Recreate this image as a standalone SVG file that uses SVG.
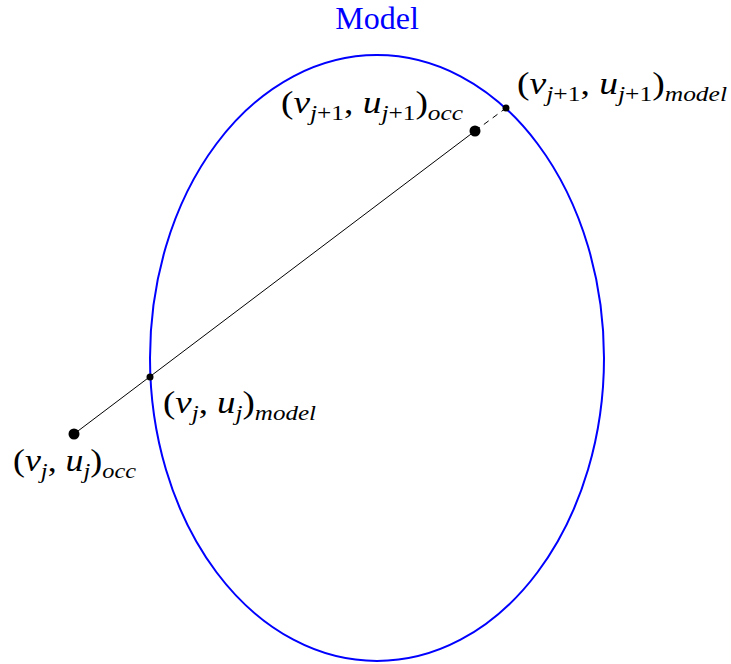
<svg xmlns="http://www.w3.org/2000/svg" width="731" height="664" viewBox="0 0 731 664">
<style>
text{font-family:"Liberation Serif","DejaVu Serif",serif;font-size:31px;fill:#000}
.i{font-style:italic}
.s{font-size:21px;font-style:italic}
.ss{font-size:21px}
.title{fill:#0000ff;font-size:32px}
</style>
<rect width="731" height="664" fill="#fff"/>
<g id="model">
<ellipse cx="377" cy="358" rx="227" ry="303" fill="none" stroke="#0000ff" stroke-width="2"/>
<text class="title" x="377" y="29" text-anchor="middle">Model</text>
</g>
<g id="connectors">
<line x1="74" y1="434" x2="475" y2="131" stroke="#000" stroke-width="1"/>
<line x1="475" y1="131" x2="506" y2="108" stroke="#000" stroke-width="1" stroke-dasharray="6,5"/>
</g>
<g id="p-occ-j">
<circle cx="74" cy="434" r="5.5" fill="#000"/>
<text x="13" y="471" textLength="123" lengthAdjust="spacingAndGlyphs">(<tspan class="i">v</tspan><tspan class="s" dy="7">j</tspan><tspan dy="-7">, </tspan><tspan class="i">u</tspan><tspan class="s" dy="7">j</tspan><tspan dy="-7">)</tspan><tspan class="s" dy="7">occ</tspan></text>
</g>
<g id="p-model-j">
<circle cx="150" cy="377" r="3.5" fill="#000"/>
<text x="163" y="413" textLength="153" lengthAdjust="spacingAndGlyphs">(<tspan class="i">v</tspan><tspan class="s" dy="7">j</tspan><tspan dy="-7">, </tspan><tspan class="i">u</tspan><tspan class="s" dy="7">j</tspan><tspan dy="-7">)</tspan><tspan class="s" dy="7">model</tspan></text>
</g>
<g id="p-occ-j1">
<circle cx="475" cy="131" r="5.5" fill="#000"/>
<text x="281" y="113" textLength="182" lengthAdjust="spacingAndGlyphs">(<tspan class="i">v</tspan><tspan class="s" dy="7">j</tspan><tspan class="ss">+1</tspan><tspan dy="-7">, </tspan><tspan class="i">u</tspan><tspan class="s" dy="7">j</tspan><tspan class="ss">+1</tspan><tspan dy="-7">)</tspan><tspan class="s" dy="7">occ</tspan></text>
</g>
<g id="p-model-j1">
<circle cx="506" cy="108" r="3.5" fill="#000"/>
<text x="517" y="94" textLength="210" lengthAdjust="spacingAndGlyphs">(<tspan class="i">v</tspan><tspan class="s" dy="7">j</tspan><tspan class="ss">+1</tspan><tspan dy="-7">, </tspan><tspan class="i">u</tspan><tspan class="s" dy="7">j</tspan><tspan class="ss">+1</tspan><tspan dy="-7">)</tspan><tspan class="s" dy="7">model</tspan></text>
</g>
</svg>
